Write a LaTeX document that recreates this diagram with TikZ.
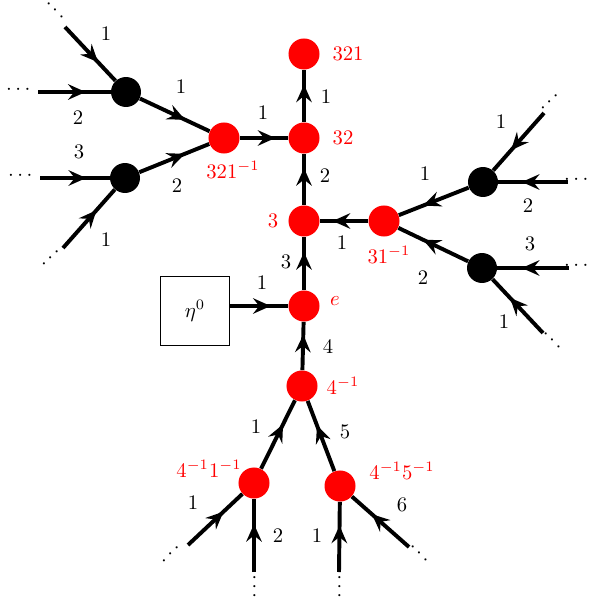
\documentclass[tikz,border=0pt]{standalone}
\usepackage{amsmath}
\usetikzlibrary{arrows.meta, decorations.markings}

\tikzset{
  redv/.style={circle, fill=red, minimum size=15pt, inner sep=0pt},
  blackv/.style={circle, fill=black, minimum size=14.5pt, inner sep=0pt},
  flow/.style={line width=1.9pt, postaction={decorate},
    decoration={markings, mark=at position 0.5 with
      {\arrow[xshift=5.5pt]{Stealth[length=8.5pt, width=7.5pt, inset=3pt]}}}},
  tag/.style={text=red, inner sep=0pt},
  num/.style={inner sep=0pt},
  dots/.style={inner sep=0pt},
}

\begin{document}
\begin{tikzpicture}[x=0.017cm, y=-0.017cm]
  \useasboundingbox (0,0) rectangle (588,601);

  % main column
  \node[redv] (n321) at (304,54) {};
  \node[redv] (n32) at (304,138) {};
  \node[redv] (n3) at (304,221) {};
  \node[redv] (ne) at (304,306) {};
  \node[redv] (n4i) at (302,386) {};
  \node[redv] (n321i) at (224,138) {};
  \node[redv] (n31i) at (384,221) {};
  \node[redv] (n41) at (254,483) {};
  \node[redv] (n45) at (340,486) {};

  % black vertices
  \node[blackv] (b1) at (126,92) {};
  \node[blackv] (b2) at (125,178) {};
  \node[blackv] (b3) at (483,182) {};
  \node[blackv] (b4) at (482,268) {};

  % source box
  \node[draw, semithick, minimum size=33.7pt, inner sep=0pt] (src) at (195,311) {$\eta^0$};

  % free ends
  \coordinate (a1) at (65,27);
  \coordinate (a2) at (38,92);
  \coordinate (a3) at (40,178);
  \coordinate (a4) at (63,248);
  \coordinate (a5) at (544,113);
  \coordinate (a6) at (568,182);
  \coordinate (a7) at (569,268);
  \coordinate (a8) at (543,333);
  \coordinate (a9) at (188,545);
  \coordinate (a10) at (254,572);
  \coordinate (a11) at (339,572);
  \coordinate (a12) at (409,547);

  % dots
  \node[dots, rotate=-45] (d1) at (56,12) {$\cdots$};
  \node[dots] (d2) at (20,90) {$\cdots$};
  \node[dots] (d3) at (22,176) {$\cdots$};
  \node[dots, rotate=45] (d4) at (52,257) {$\cdots$};
  \node[dots, rotate=45] (d5) at (551,101) {$\cdots$};
  \node[dots] (d6) at (578,180) {$\cdots$};
  \node[dots] (d7) at (578,266) {$\cdots$};
  \node[dots, rotate=-45] (d8) at (553,342) {$\cdots$};
  \node[dots, rotate=45] (d9) at (172,553) {$\cdots$};
  \node[dots, rotate=90] (d10) at (255,585) {$\cdots$};
  \node[dots, rotate=90] (d11) at (340,585) {$\cdots$};
  \node[dots, rotate=-45] (d12) at (420,555) {$\cdots$};

  % edges
  \draw[flow] (a1) -- (b1);
  \draw[flow] (a2) -- (b1);
  \draw[flow] (b1) -- (n321i);
  \draw[flow] (a3) -- (b2);
  \draw[flow] (a4) -- (b2);
  \draw[flow] (b2) -- (n321i);
  \draw[flow] (n321i) -- (n32);
  \draw[flow] (n32) -- (n321);
  \draw[flow] (n3) -- (n32);
  \draw[flow] (ne) -- (n3);
  \draw[flow] (n31i) -- (n3);
  \draw[flow] (b3) -- (n31i);
  \draw[flow] (b4) -- (n31i);
  \draw[flow] (a5) -- (b3);
  \draw[flow] (a6) -- (b3);
  \draw[flow] (a7) -- (b4);
  \draw[flow] (a8) -- (b4);
  \draw[flow] (src.east |- ne) -- (ne);
  \draw[flow] (n4i) -- (ne);
  \draw[flow] (n41) -- (n4i);
  \draw[flow] (n45) -- (n4i);
  \draw[flow] (a9) -- (n41);
  \draw[flow] (a10) -- (n41);
  \draw[flow] (a11) -- (n45);
  \draw[flow] (a12) -- (n45);

  % edge numbers
  \node[num] (l1) at (106,34) {1};
  \node[num] (l2) at (78,118) {2};
  \node[num] (l3) at (181,87) {1};
  \node[num] (l4) at (79,152) {3};
  \node[num] (l5) at (177,186) {2};
  \node[num] (l6) at (106,240) {1};
  \node[num] (l7) at (263,113) {1};
  \node[num] (l8) at (326,97) {1};
  \node[num] (l9) at (325,176) {2};
  \node[num] (l10) at (286,262) {3};
  \node[num] (l11) at (342,243) {1};
  \node[num] (l12) at (425,174) {1};
  \node[num] (l13) at (423,278) {2};
  \node[num] (l14) at (501,122) {1};
  \node[num] (l15) at (528,206) {2};
  \node[num] (l16) at (530,244) {3};
  \node[num] (l17) at (504,322) {1};
  \node[num] (l18) at (262,283) {1};
  \node[num] (l19) at (328,346) {4};
  \node[num] (l20) at (256,427) {1};
  \node[num] (l21) at (345,432) {5};
  \node[num] (l22) at (193,503) {1};
  \node[num] (l23) at (402,505) {6};
  \node[num] (l24) at (278,536) {2};
  \node[num] (l25) at (317,536) {1};

  % vertex names
  \node[tag] (t321) at (348,54) {321};
  \node[tag] (t32) at (343,138) {32};
  \node[tag] (t3) at (273,221) {3};
  \node[tag] (te) at (335,301) {$e$};
  \node[tag] (t321i) at (233,170) {$321^{-1}$};
  \node[tag] (t31i) at (389,255) {$31^{-1}$};
  \node[tag] (t4i) at (343,386) {$4^{-1}$};
  \node[tag] (t41) at (209,469) {$4^{-1}1^{-1}$};
  \node[tag] (t45) at (402,471) {$4^{-1}5^{-1}$};
\end{tikzpicture}
\end{document}
